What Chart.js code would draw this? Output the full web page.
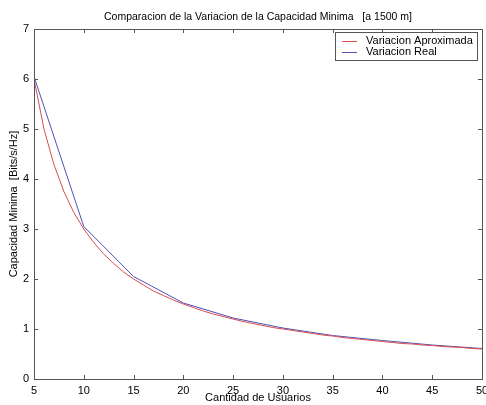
<!DOCTYPE html>
<html>
<head>
<meta charset="utf-8">
<script src="https://cdn.jsdelivr.net/npm/chart.js@4"></script>
<style>
  html, body { margin: 0; padding: 0; background: #fff; }
  #wrap { width: 486px; height: 405px; }
</style>
</head>
<body>
<div id="wrap"><canvas id="chart" width="486" height="405"></canvas></div>
<script>
// x values for the approximated curve (one per user count)
const usersFine = [5, 6, 7, 8, 9, 10, 11, 12, 13, 14, 15, 16, 17, 18, 19, 20, 21, 22, 23, 24, 25,
    26, 27, 28, 29, 30, 31, 32, 33, 34, 35, 36, 37, 38, 39, 40, 41, 42, 43, 44, 45, 46, 47, 48, 49, 50];
const aproximada = [6.00, 5.00, 4.29, 3.75, 3.33, 3.00, 2.73, 2.50, 2.31, 2.14, 2.00, 1.88, 1.76, 1.67,
    1.58, 1.50, 1.43, 1.36, 1.30, 1.25, 1.20, 1.15, 1.11, 1.07, 1.03, 1.00, 0.97, 0.94, 0.91, 0.88,
    0.86, 0.83, 0.81, 0.79, 0.77, 0.75, 0.73, 0.71, 0.70, 0.68, 0.67, 0.65, 0.64, 0.63, 0.61, 0.60];

const usersCoarse = [5, 10, 15, 20, 25, 30, 35, 40, 45, 50];
const real = [6.05, 3.05, 2.05, 1.52, 1.22, 1.02, 0.87, 0.77, 0.68, 0.61];

const xTicks = [5, 10, 15, 20, 25, 30, 35, 40, 45, 50];
const yTicks = [0, 1, 2, 3, 4, 5, 6, 7];

const FONT = 'Liberation Sans, Arial, Helvetica, sans-serif';
const AXIS_COLOR = '#555';

// MATLAB-like frame: box, inward ticks, titles and the legend
const matlabFrame = {
    id: 'matlabFrame',
    afterDraw(chart) {
        const ctx = chart.ctx;
        const a = chart.chartArea;
        const xs = chart.scales.x;
        const ys = chart.scales.y;
        ctx.save();
        ctx.strokeStyle = AXIS_COLOR;
        ctx.lineWidth = 1;
        ctx.strokeRect(Math.round(a.left) + 0.5, Math.round(a.top) + 0.5,
            Math.round(a.right - a.left), Math.round(a.bottom - a.top));

        const tl = 4;
        ctx.beginPath();
        xTicks.forEach((v) => {
            const px = Math.round(xs.getPixelForValue(v)) + 0.5;
            ctx.moveTo(px, a.bottom); ctx.lineTo(px, a.bottom - tl);
            ctx.moveTo(px, a.top); ctx.lineTo(px, a.top + tl);
        });
        yTicks.forEach((v) => {
            const py = Math.round(ys.getPixelForValue(v)) + 0.5;
            ctx.moveTo(a.left, py); ctx.lineTo(a.left + tl, py);
            ctx.moveTo(a.right, py); ctx.lineTo(a.right - tl, py);
        });
        ctx.stroke();

        // titles
        ctx.fillStyle = '#000';
        ctx.font = '10.5px ' + FONT;
        ctx.textAlign = 'center';
        ctx.textBaseline = 'middle';
        ctx.fillText('Comparacion de la Variacion de la Capacidad Minima   [a 1500 m]',
            (a.left + a.right) / 2, 17);
        ctx.font = '11px ' + FONT;
        ctx.fillText('Cantidad de Usuarios', (a.left + a.right) / 2, 398);
        ctx.save();
        ctx.translate(14, (a.top + a.bottom) / 2);
        ctx.rotate(-Math.PI / 2);
        ctx.fillText('Capacidad Minima  [Bits/s/Hz]', 0, 0);
        ctx.restore();

        // legend box
        const lx = 335, ly = 32, lw = 142, lh = 28;
        ctx.fillStyle = '#fff';
        ctx.fillRect(lx, ly, lw, lh);
        ctx.strokeStyle = AXIS_COLOR;
        ctx.strokeRect(lx + 0.5, ly + 0.5, lw, lh);
        ctx.font = '11px ' + FONT;
        ctx.textAlign = 'left';
        chart.data.datasets.forEach((ds, i) => {
            const y = ly + 8.5 + i * 11.5;
            ctx.strokeStyle = ds.borderColor;
            ctx.beginPath();
            ctx.moveTo(lx + 7, Math.round(y) + 0.5);
            ctx.lineTo(lx + 22, Math.round(y) + 0.5);
            ctx.stroke();
            ctx.fillStyle = '#000';
            ctx.fillText(ds.label, lx + 31, y);
        });
        ctx.restore();
    },
};

new Chart(document.getElementById('chart'), {
    type: 'line',
    data: {
        datasets: [
            {
                label: 'Variacion Aproximada',
                data: usersFine.map((u, i) => ({ x: u, y: aproximada[i] })),
                borderColor: '#d94c4c',
                borderWidth: 1,
                pointRadius: 0,
                tension: 0,
            },
            {
                label: 'Variacion Real',
                data: usersCoarse.map((u, i) => ({ x: u, y: real[i] })),
                borderColor: '#5050b8',
                borderWidth: 1,
                pointRadius: 0,
                tension: 0,
            },
        ],
    },
    options: {
        responsive: false,
        animation: false,
        events: [],
        layout: { padding: { top: 29, right: 0, left: 0, bottom: 0 } },
        plugins: {
            legend: { display: false },
            title: { display: false },
            tooltip: { enabled: false },
        },
        scales: {
            x: {
                type: 'linear',
                min: 5,
                max: 50,
                afterBuildTicks: (scale) => { scale.ticks = xTicks.map((v) => ({ value: v })); },
                afterFit: (scale) => { scale.height = 26; scale.paddingRight = 4; scale.paddingLeft = 0; },
                grid: { display: false, drawTicks: false },
                border: { display: false },
                ticks: { color: '#000', padding: 5, font: { size: 11, family: FONT }, maxRotation: 0 },
            },
            y: {
                type: 'linear',
                min: 0,
                max: 7,
                afterBuildTicks: (scale) => { scale.ticks = yTicks.map((v) => ({ value: v })); },
                afterFit: (scale) => { scale.width = 34; },
                grid: { display: false, drawTicks: false },
                border: { display: false },
                ticks: { color: '#000', padding: 5, font: { size: 11, family: FONT } },
            },
        },
    },
    plugins: [matlabFrame],
});
</script>
</body>
</html>
